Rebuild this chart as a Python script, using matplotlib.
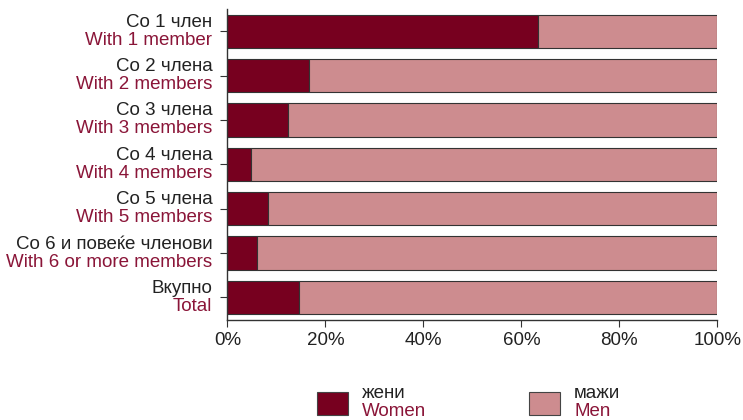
import matplotlib.pyplot as plt
from matplotlib.patches import Rectangle
from matplotlib.ticker import PercentFormatter

plt.rcParams['font.family'] = ['Liberation Sans', 'DejaVu Sans']

# ==========================================================
# Data
# ==========================================================

labels_mk = ["Со 1 член", "Со 2 члена", "Со 3 члена", "Со 4 члена",
             "Со 5 члена", "Со 6 и повеќе членови", "Вкупно"]
labels_en = ["With 1 member", "With 2 members", "With 3 members",
             "With 4 members", "With 5 members", "With 6 or more members",
             "Total"]
women = [63.5, 16.7, 12.4, 4.8, 8.3, 6.1, 14.7]
men = [100 - w for w in women]

C_WOMEN = "#77001f"
C_MEN = "#cd8c8f"
C_TEXT_EN = "#8a1538"
FS = 13.5

# ==========================================================
# Plot
# ==========================================================

fig = plt.figure(figsize=(7.43, 4.2), dpi=100)
ax = fig.add_axes([0.306, 0.239, 0.6594, 0.7396])

ypos = list(range(len(women)))
ax.barh(ypos, women, height=0.75, color=C_WOMEN,
        edgecolor="#333333", linewidth=0.8)
ax.barh(ypos, men, left=women, height=0.75, color=C_MEN,
        edgecolor="#333333", linewidth=0.8)

ax.set_xlim(0, 100)
ax.set_ylim(len(women) - 0.5, -0.5)
ax.xaxis.set_major_formatter(PercentFormatter(decimals=0))
ax.set_xticks([0, 20, 40, 60, 80, 100])
ax.tick_params(axis="x", labelsize=FS, length=5, color="#333333",
               labelcolor="#222222", pad=4)
ax.set_yticks(ypos)
ax.set_yticklabels([])
ax.tick_params(axis="y", length=5, color="#333333")

for side in ["top", "right"]:
    ax.spines[side].set_visible(False)
for side in ["left", "bottom"]:
    ax.spines[side].set_color("#333333")
    ax.spines[side].set_linewidth(1.0)

for i in ypos:
    ax.annotate(labels_mk[i], xy=(0, i), xycoords=("axes fraction", "data"),
                xytext=(-15, 9), textcoords="offset pixels",
                ha="right", va="center", fontsize=FS, color="#222222")
    ax.annotate(labels_en[i], xy=(0, i), xycoords=("axes fraction", "data"),
                xytext=(-15, -9), textcoords="offset pixels",
                ha="right", va="center", fontsize=FS, color=C_TEXT_EN)

# ==========================================================
# Legend (drawn by hand, two-line labels)
# ==========================================================

W, H = 743, 420
legend_items = [(317, C_WOMEN, "жени", "Women"), (529, C_MEN, "мажи", "Men")]
for x0, col, mk, en in legend_items:
    fig.add_artist(Rectangle((x0 / W, 1 - 415 / H), 31 / W, 23 / H,
                             transform=fig.transFigure, facecolor=col,
                             edgecolor="#444444", linewidth=0.8))
    fig.text((x0 + 45) / W, 1 - 393 / H, mk, ha="left", va="center",
             fontsize=FS, color="#222222")
    fig.text((x0 + 45) / W, 1 - 412 / H, en, ha="left", va="center",
             fontsize=FS, color=C_TEXT_EN)

plt.savefig("out.png", dpi=100)
plt.close()
